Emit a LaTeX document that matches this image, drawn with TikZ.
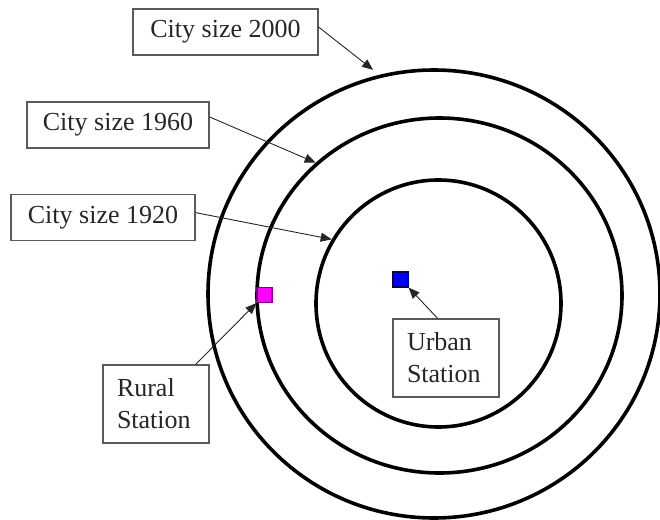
\documentclass[tikz,border=0pt]{standalone}
\usepackage{fontspec}
\setmainfont{Liberation Serif}
\usepackage{tikz}
\usetikzlibrary{
	arrows.meta,
	shapes.geometric,
	positioning
}
\definecolor{RuralPink}{RGB}{255,0,255}
\definecolor{RuralEdge}{RGB}{120,0,120}
\definecolor{UrbanBlue}{RGB}{0,0,255}
\definecolor{UrbanEdge}{RGB}{0,0,100}
\definecolor{BoxGray}{RGB}{90,90,90}

\begin{document}
\begin{tikzpicture}[x=0.5pt, y=-0.5pt,
		ring/.style={ellipse, draw=black, line width=1.8pt, inner sep=0pt},
		tag/.style={rectangle, draw=BoxGray, line width=0.7pt, inner sep=0pt, minimum height=23pt, font=\fontsize{13}{16}\selectfont, text=black!85},
		stationbox/.style={rectangle, draw=BoxGray, line width=0.7pt, inner xsep=7pt, inner ysep=0pt, text width=39pt, align=left, minimum height=39pt, font=\fontsize{13}{16}\selectfont, text=black!85},
		site/.style={rectangle, line width=0.6pt, minimum size=7.5pt, inner sep=0pt},
		pointer/.style={-{Triangle[length=5.5pt, width=4.5pt]}, line width=0.45pt, black!85}]
		\useasboundingbox (0,0) rectangle (660,520);
		\node[ring, minimum width=226pt, minimum height=224pt] (ring2000) at (434,294) {};
		\node[ring, minimum width=182.5pt, minimum height=177.5pt] (ring1960) at (439.5,295.5) {};
		\node[ring, minimum width=122.5pt, minimum height=123.5pt] (ring1920) at (438.5,303.5) {};
		\node[site, fill=RuralPink, draw=RuralEdge] (ruralsite) at (264.5,295) {};
		\node[site, fill=UrbanBlue, draw=UrbanEdge] (urbansite) at (400.5,279.5) {};
		\node[tag, minimum width=92.5pt] (c2000) at (225.5,32) {City size 2000};
		\node[tag, minimum width=91pt] (c1960) at (118,125) {City size 1960};
		\node[tag, minimum width=92pt] (c1920) at (103,217.5) {City size 1920};
		\node[stationbox] (rural) at (156,404) {Rural\\Station};
		\node[stationbox] (urban) at (446,358) {Urban\\Station};
		\draw[pointer, shorten >=4pt] (c2000.3) -- (ring2000.104);
		\draw[pointer] (c1960.5) -- (ring1960.133);
		\draw[pointer] (c1920.3) -- (ring1920.149);
		\draw[pointer] (rural.45) -- (ruralsite.south west);
		\draw[pointer] (urban.102) -- (urbansite.south east);
	\end{tikzpicture}
\end{document}
